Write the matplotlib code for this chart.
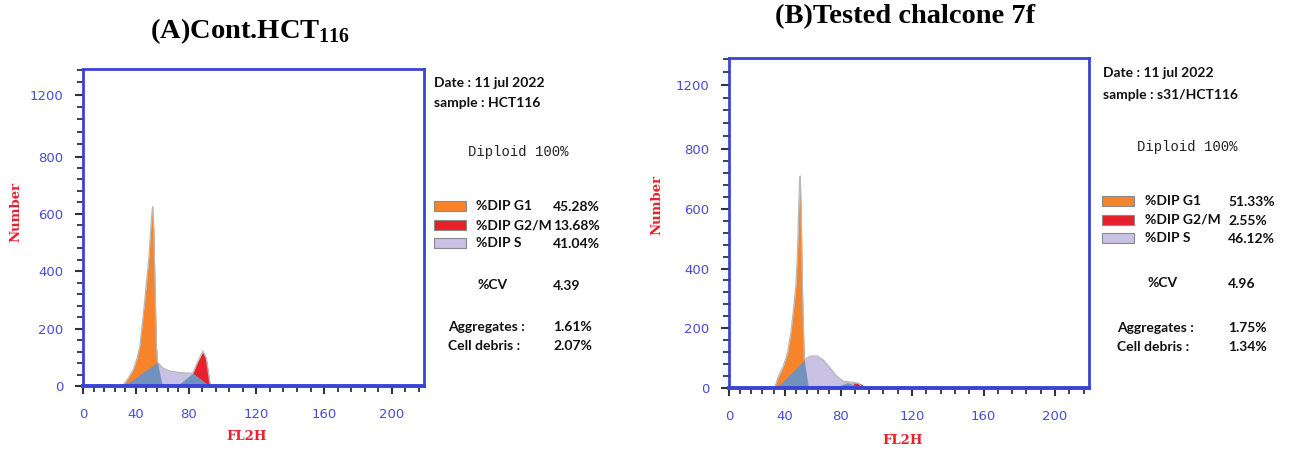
import numpy as np
import matplotlib
matplotlib.use('Agg')
import matplotlib.pyplot as plt
from matplotlib.patches import Rectangle
from matplotlib.ticker import FixedLocator

W, H = 1290, 451

# ---------------- data : panel A (control HCT116) ----------------
a_tot_x = [30, 34.2, 38, 41, 43, 45, 46.8, 48.8, 50, 51.1, 52.3, 52.8, 53.6, 54.6, 55.6, 56.4,
           60.6, 65.7, 73, 78, 82.5, 85, 88.4, 90.4, 92.8]
a_tot_y = [0, 27, 56, 97, 137, 219, 300, 394, 452, 534, 609, 625, 545, 336, 137, 83,
           62, 52, 47, 45, 45, 80, 122, 97, 0]
a_g1_x = [30, 34.2, 38, 41, 43, 45, 46.8, 48.8, 50, 51.1, 52.3, 52.8, 53.6, 54.6, 55.6, 56.4]
a_g1_y = [0, 27, 56, 97, 137, 219, 300, 394, 452, 534, 609, 618, 545, 336, 137, 81]
a_s_x = [56.4, 60.6, 65.7, 73, 78, 82.5]
a_s_y = [81, 62, 52, 47, 45, 45]
a_g2_x = [82.5, 85, 88.4, 90.4, 92.8]
a_g2_y = [45, 80, 120, 97, 0]
a_ov1_x = [31, 56.4, 60]
a_ov1_y = [0, 83, 0]
a_ov2_x = [71, 82.5, 92.4]
a_ov2_y = [0, 45, 0]

# ---------------- data : panel B (chalcone 7f) ----------------
b_tot_x = [32.6, 35.5, 39, 42, 44.4, 46.3, 48, 49.1, 49.9, 50.6, 51.1, 51.8, 52.3, 53, 54,
           58.3, 63.5, 67.8, 72.7, 77.6, 81.8, 86, 90, 92.5]
b_tot_y = [0, 40, 74, 118, 186, 265, 345, 445, 590, 690, 710, 600, 430, 262, 95,
           107, 107, 93, 66, 38, 22, 20, 16, 0]
b_g1_x = [32.6, 35.5, 39, 42, 44.4, 46.3, 48, 49.1, 49.9, 50.6, 51.8, 52.3, 53, 54]
b_g1_y = [0, 38, 71, 115, 182, 260, 338, 438, 560, 654, 593, 427, 260, 93]
b_s_x = [54, 58.3, 63.5, 67.8, 72.7, 77.6, 81.8, 86, 90, 92.5]
b_s_y = [93, 107, 107, 93, 66, 38, 21, 16, 12, 0]
b_g2_x = [86, 87.5, 90, 92, 93.5]
b_g2_y = [0, 16, 17, 12, 0]
b_ov1_x = [34, 54, 57]
b_ov1_y = [0, 93, 0]
b_ov2_x = [74, 84, 92]
b_ov2_y = [0, 18, 0]

# ---------------- text / ticks ----------------
titles = ['(A)Cont.HCT$_{\\mathbf{116}}$', '(B)Tested chalcone 7f']
date_text = 'Date : 11 jul 2022'
samples = ['sample : HCT116', 'sample : s31/HCT116']
phase_labels = ['%DIP G1', '%DIP G2/M', '%DIP S']
a_phase_values = ['45.28%', '13.68%', '41.04%']
b_phase_values = ['51.33%', '2.55%', '46.12%']
cv_values = ['4.39', '4.96']
aggr_values = ['1.61%', '1.75%']
debris_values = ['2.07%', '1.34%']
y_ticks = [0, 200, 400, 600, 800, 1200]
x_ticks = [0, 40, 80, 120, 160, 200]

ORANGE = '#f7832a'
RED = '#e8202c'
LAV = '#c8c1e4'
BLUEGRAY = '#7092bd'
OUTLINE = '#b8b8b8'
SPINE = '#3a44d4'
TICKLAB = '#4a4ad8'

plt.rcParams['mathtext.fontset'] = 'custom'
plt.rcParams['mathtext.rm'] = 'Liberation Serif:bold'
plt.rcParams['mathtext.bf'] = 'Liberation Serif:bold'

KY = 0.54
KX = 0.78


def yf(v):
    v = np.asarray(v, float)
    return np.where(v <= 800, v, 800 + (v - 800) * KY)


def yi(d):
    d = np.asarray(d, float)
    return np.where(d <= 800, d, 800 + (d - 800) / KY)


def xf(v):
    v = np.asarray(v, float)
    return np.where(v <= 80, v * KX, 80 * KX + (v - 80))


def xi(d):
    d = np.asarray(d, float)
    return np.where(d <= 80 * KX, d / KX, 80 + (d - 80 * KX))


fig = plt.figure(figsize=(W / 100, H / 100), dpi=100)
fig.patch.set_facecolor('white')


def ftext(x, y, s, **kw):
    kw.setdefault('va', 'center')
    fig.text(x / W, 1 - y / H, s, **kw)


def make_axes(left, right, top, bottom):
    ax = fig.add_axes([left / W, 1 - bottom / H, (right - left) / W, (bottom - top) / H])
    ax.set_xscale('function', functions=(xf, xi))
    ax.set_yscale('function', functions=(yf, yi))
    ax.set_xlim(0, 219)
    ax.set_ylim(0, 1365)
    ax.set_xticks(x_ticks)
    ax.set_xticklabels([str(t) for t in x_ticks])
    ax.set_yticks(y_ticks)
    ax.set_yticklabels([str(t) for t in y_ticks])
    ymin = [v for v in range(40, 800, 40) if v % 200 != 0] + [880, 960, 1040, 1120, 1280, 1360]
    xmin = [v for v in range(8, 219, 8) if v % 40 != 0]
    ax.yaxis.set_minor_locator(FixedLocator(ymin))
    ax.xaxis.set_minor_locator(FixedLocator(xmin))
    ax.tick_params(axis='both', which='major', direction='out', length=6, width=1.5,
                   color='#333333', labelcolor=TICKLAB, labelsize=9.5)
    ax.tick_params(axis='both', which='minor', direction='out', length=4, width=1.3,
                   color='#333333')
    ax.tick_params(axis='x', which='major', pad=10)
    ax.tick_params(axis='y', which='major', pad=8)
    for s in ax.spines.values():
        s.set_color(SPINE)
        s.set_linewidth(2)
    ax.spines['bottom'].set_linewidth(2.8)
    return ax


def draw(ax, tx, ty, sx, sy, g1x, g1y, g2x, g2y, o1x, o1y, o2x, o2y):
    ax.fill_between(tx, 0, ty, color=OUTLINE, lw=0)
    ax.fill_between(sx, 0, sy, color=LAV, lw=0)
    ax.fill_between(g1x, 0, g1y, color=ORANGE, lw=0)
    ax.fill_between(g2x, 0, g2y, color=RED, lw=0)
    ax.fill_between(o1x, 0, o1y, color=BLUEGRAY, lw=0)
    ax.fill_between(o2x, 0, o2y, color=BLUEGRAY, lw=0)
    ax.plot(tx, ty, color=OUTLINE, lw=0.9)


axA = make_axes(83, 424, 69, 386)
draw(axA, a_tot_x, a_tot_y, a_s_x, a_s_y, a_g1_x, a_g1_y, a_g2_x, a_g2_y,
     a_ov1_x, a_ov1_y, a_ov2_x, a_ov2_y)
axB = make_axes(729, 1089, 58, 388)
draw(axB, b_tot_x, b_tot_y, b_s_x, b_s_y, b_g1_x, b_g1_y, b_g2_x, b_g2_y,
     b_ov1_x, b_ov1_y, b_ov2_x, b_ov2_y)

# titles
ftext(250, 31, titles[0], ha='center', family='Liberation Serif', weight='bold', fontsize=20.5)
ftext(905, 17, titles[1], ha='center', family='Liberation Serif', weight='bold', fontsize=20.5)

# axis labels
for (nx, ny), (fx, fy) in [((16, 212), (247, 437)), ((657, 205), (903, 441))]:
    ftext(nx, ny, 'Number', ha='center', rotation=90, color=RED, family='DejaVu Serif',
          weight='bold', fontsize=9.5)
    ftext(fx, fy, 'FL2H', ha='center', color=RED, family='DejaVu Serif',
          weight='bold', fontsize=9.5)

INFO = ['Liberation Sans Narrow', 'Lato', 'DejaVu Sans']
info_kw = dict(family=INFO, weight='bold', fontsize=10, color='#111111')

layouts = [
    dict(x0=434, date_y=83, samp_y=103, dip_x=468, dip_y=152, box_x=434, lab_x=476,
         rows=[206, 225, 243], val_x=553, cv_y=285, cv_x=477, ag_x=448, ag_y=327, cd_y=346,
         vals=a_phase_values, i=0),
    dict(x0=1103, date_y=73, samp_y=95, dip_x=1137, dip_y=147, box_x=1102, lab_x=1145,
         rows=[201, 220, 238], val_x=1228, cv_y=283, cv_x=1147, ag_x=1117, ag_y=328, cd_y=347,
         vals=b_phase_values, i=1),
]
box_colors = [ORANGE, RED, LAV]
for L in layouts:
    i = L['i']
    ftext(L['x0'], L['date_y'], date_text, **info_kw)
    ftext(L['x0'], L['samp_y'], samples[i], **info_kw)
    ftext(L['dip_x'], L['dip_y'], 'Diploid 100%', family='Liberation Mono', fontsize=10,
          color='#222222')
    for r, (lab, val, col) in enumerate(zip(phase_labels, L['vals'], box_colors)):
        y = L['rows'][r]
        fig.patches.append(Rectangle((L['box_x'] / W, 1 - (y + 5) / H), 32 / W, 10 / H,
                                     transform=fig.transFigure, facecolor=col,
                                     edgecolor='#8a8a8a', lw=0.8))
        ftext(L['lab_x'], y, lab, **info_kw)
        ftext(L['val_x'], y + 1, val, **info_kw)
    ftext(L['cv_x'], L['cv_y'], '%CV', **info_kw)
    ftext(L['val_x'], L['cv_y'] + 1, cv_values[i], **info_kw)
    ftext(L['ag_x'], L['ag_y'], 'Aggregates :', **info_kw)
    ftext(L['val_x'], L['ag_y'], aggr_values[i], **info_kw)
    ftext(L['ag_x'], L['cd_y'], 'Cell debris :', **info_kw)
    ftext(L['val_x'], L['cd_y'], debris_values[i], **info_kw)

fig.savefig('out.png', dpi=100, facecolor='white')
